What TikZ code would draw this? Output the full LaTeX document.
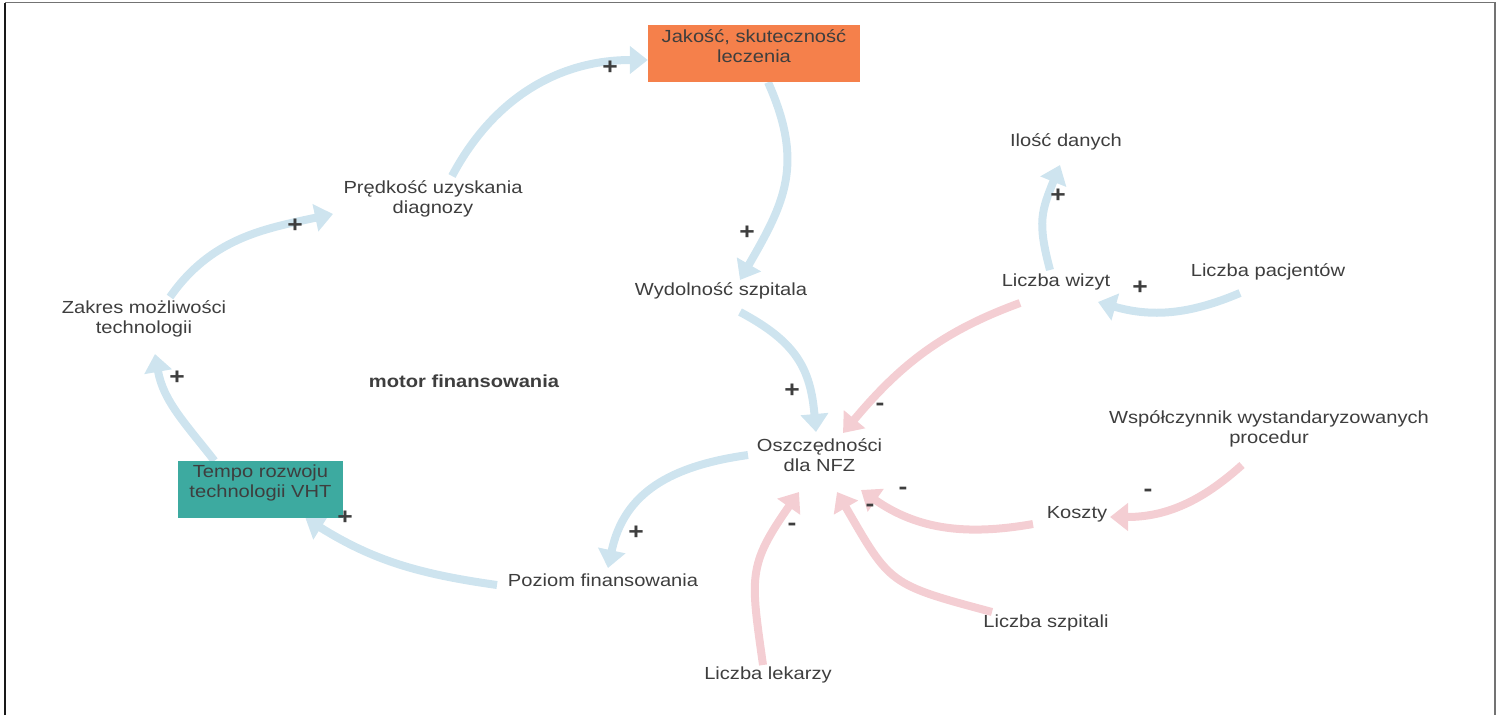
\documentclass[tikz,border=0pt]{standalone}
\usepackage{fontspec}
\setmainfont[FakeStretch=1.15]{Liberation Sans}
\usetikzlibrary{arrows.meta,calc}
\definecolor{txt}{HTML}{3E3E3E}
\definecolor{posc}{RGB}{206,228,239}
\definecolor{negc}{RGB}{244,206,211}
\definecolor{qualc}{HTML}{F5804B}
\definecolor{tempoc}{HTML}{3DAAA0}
\pgfdeclarelayer{bg}
\pgfsetlayers{bg,main}
\begin{document}
\begin{tikzpicture}[x=1pt,y=1pt,
  lab/.style={text=txt, font=\fontsize{17.5}{19.5}\selectfont, align=center, inner sep=0pt},
  sgn/.style={text=txt, font=\fontsize{23}{24}\selectfont\bfseries, inner sep=0pt},
  fillbox/.style={inner sep=0pt, draw=none},
  posarrow/.style={draw=posc, line width=8pt, -{Triangle[length=18pt,width=27pt]}},
  negarrow/.style={draw=negc, line width=8pt, -{Triangle[length=18pt,width=27pt]}}]

\path[use as bounding box] (0,0) rectangle (1503,-715);

% frame
\draw[line width=1.3pt, black!90] (5,-715) -- (5,-2.5);
\draw[line width=1.3pt, black!55] (5,-2.5) -- (1495,-2.5) -- (1495,-715);

% variables
\node[fillbox, fill=qualc, minimum width=212pt, minimum height=57pt] (jak) at (754,-53.5) {};
\node[lab] (jakt) at (754,-46) {Jakość, skuteczność\\leczenia};
\node[lab] (pred) at (433,-199) {Prędkość uzyskania\\diagnozy};
\node[lab] (zak) at (144,-319) {Zakres możliwości\\technologii};
\node[lab, font=\fontsize{17.5}{19.5}\selectfont\bfseries] (motor) at (464,-381) {motor finansowania};
\node[fillbox, fill=tempoc, minimum width=165pt, minimum height=57pt] (tempo) at (260.5,-489.5) {};
\node[lab] (tempot) at (260.5,-483) {Tempo rozwoju\\technologii VHT};
\node[lab] (poz) at (603,-580) {Poziom finansowania};
\node[lab] (wyd) at (721,-291) {Wydolność szpitala};
\node[lab] (osz) at (819.5,-455) {Oszczędności\\dla NFZ};
\node[lab] (ilo) at (1066,-142) {Ilość danych};
\node[lab] (wiz) at (1056,-282) {Liczba wizyt};
\node[lab] (pac) at (1268,-272) {Liczba pacjentów};
\node[lab] (wsp) at (1269,-429) {Współczynnik wystandaryzowanych\\procedur};
\node[lab] (kos) at (1077,-514) {Koszty};
\node[lab] (szp) at (1046,-623) {Liczba szpitali};
\node[lab] (lek) at (768,-675) {Liczba lekarzy};

% causal links
\begin{pgfonlayer}{bg}
\draw[posarrow] ($(pred)+(19,23)$) to[out=62,in=180] ($(jak.west)+(0,-6.5)$);
\draw[posarrow] ($(jak.south)+(14,0)$) to[out=-66,in=60,looseness=1.15] ($(wyd)+(19,11)$);
\draw[posarrow] ($(zak)+(26,22)$) to[out=55,in=192] ($(pred)+(-100,-15)$);
\draw[posarrow] ($(tempo.north)+(-46,0)$) to[out=128,in=-80] ($(zak)+(11,-35)$);
\draw[posarrow] ($(poz)+(-106,-5)$) to[out=172,in=-32] ($(tempo.south)+(45,0)$);
\draw[posarrow] ($(osz)+(-71.5,0)$) to[out=188,in=78,looseness=1.1] ($(poz)+(5,12)$);
\draw[posarrow] ($(wyd)+(19,-21)$) to[out=-28,in=95,looseness=1.15] ($(osz)+(-3.5,23)$);
\draw[posarrow] ($(wiz)+(-6,12)$) to[out=105,in=-112,looseness=1.2] ($(ilo)+(-6,-23)$);
\draw[posarrow] ($(pac)+(-28,-21)$) to[out=203,in=-16] ($(wiz)+(42,-20)$);

\draw[negarrow] ($(wiz)+(-36,-21)$) to[out=200,in=50] ($(osz)+(23.5,22)$);
\draw[negarrow] ($(kos)+(-44,-10)$) to[out=190,in=-35] ($(osz)+(41.5,-35)$);
\draw[negarrow] ($(szp)+(-54,11)$) to[out=165,in=-60,looseness=1.4] ($(osz)+(17.5,-37)$);
\draw[negarrow] ($(lek)+(-5,10)$) to[out=98,in=-125,looseness=1.3] ($(osz)+(-20.5,-37)$);
\draw[negarrow] ($(wsp)+(-27,-36)$) to[out=222,in=0] ($(kos)+(33,-3)$);
\end{pgfonlayer}

% polarities
\node[sgn] (p1) at (610,-68) {+};
\node[sgn] (p2) at (747,-233) {+};
\node[sgn] (p3) at (295,-226) {+};
\node[sgn] (p4) at (177,-378) {+};
\node[sgn] (p5) at (345,-518) {+};
\node[sgn] (p6) at (636,-533) {+};
\node[sgn] (p7) at (792,-391) {+};
\node[sgn] (p8) at (1058,-196) {+};
\node[sgn] (p9) at (1140,-288) {+};
\node[sgn] (m1) at (880,-407) {-};
\node[sgn] (m2) at (903,-491) {-};
\node[sgn] (m3) at (870,-508) {-};
\node[sgn] (m4) at (792,-527) {-};
\node[sgn] (m5) at (1148,-493) {-};
\end{tikzpicture}
\end{document}
